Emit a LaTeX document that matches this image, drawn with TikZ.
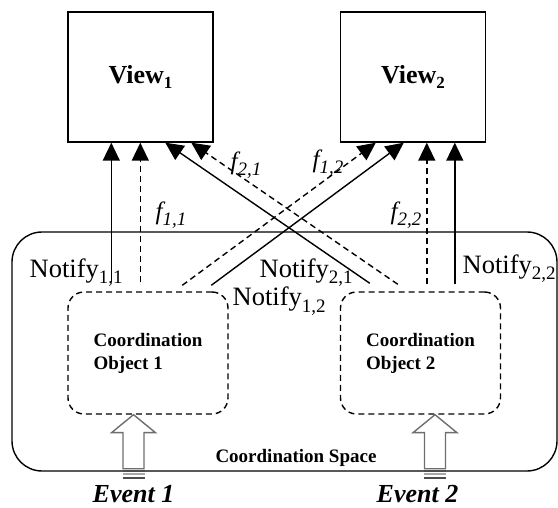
\documentclass[tikz,border=0pt]{standalone}
\usepackage{fontspec}
\setmainfont{Liberation Serif}
\usetikzlibrary{arrows.meta,calc}
\newcommand{\dnsub}[1]{\raisebox{-6pt}{\fontsize{19}{19}\selectfont #1}}
\newcommand{\vsub}[1]{\raisebox{-5pt}{\fontsize{17}{17}\selectfont #1}}
\definecolor{evgray}{HTML}{6E6E6E}
\begin{document}
\begin{tikzpicture}[x=1pt,y=-1pt,line width=1.4pt,
  >={Triangle[length=18pt,width=17pt]},
  viewbox/.style={draw,minimum width=145pt,minimum height=130pt,inner sep=0pt,
    font=\fontsize{26}{26}\selectfont\bfseries},
  cobox/.style={draw,dash pattern=on 6pt off 4pt,rounded corners=16pt,
    minimum width=160pt,minimum height=122pt,align=left,
    font=\fontsize{19}{23}\selectfont\bfseries},
  spacebox/.style={draw,rounded corners=30pt,minimum width=545pt,minimum height=239pt,inner sep=0pt},
  conn/.style={->},
  dconn/.style={->,dash pattern=on 6pt off 4pt},
  ntf/.style={inner sep=0pt,anchor=base west,font=\fontsize{26.5}{26.5}\selectfont},
  flbl/.style={inner sep=0pt,font=\fontsize{25}{25}\selectfont\itshape},
  evlbl/.style={inner sep=0pt,anchor=base west,font=\fontsize{26}{26}\selectfont\bfseries\itshape},
  evarrow/.style={draw=evgray,fill=white,line width=1.4pt,line join=miter},
  stripe/.style={line width=2pt}
]
\useasboundingbox (0,0) rectangle (558,508);

% coordination space
\node[spacebox] (cs) at (284.5,351.5) {};
\node[inner sep=0pt,anchor=base,font=\fontsize{19}{19}\selectfont\bfseries] (cslbl) at (296,462) {Coordination Space};

% views
\node[viewbox] (v1) at (140.5,77) {View\vsub{1}};
\node[viewbox] (v2) at (413,77) {View\vsub{2}};

% coordination objects
\node[cobox] (co1) at (148,353) {Coordination\\Object 1};
\node[cobox] (co2) at (420.5,353) {Coordination\\Object 2};

% connector start points
\coordinate (a1) at ($(co1.north west)+(44,-9)$);
\coordinate (a2) at ($(co1.north west)+(73,-9)$);
\coordinate (a3) at ($(co1.north west)+(115,-6)$);
\coordinate (a4) at ($(co1.north west)+(144,-6)$);
\coordinate (b1) at ($(co2.north west)+(30,-8)$);
\coordinate (b2) at ($(co2.north west)+(58,-7)$);
\coordinate (b3) at ($(co2.north west)+(87,-7)$);
\coordinate (b4) at ($(co2.north west)+(115,-7)$);

% connector end points
\coordinate (t1) at ($(v1.south west)+(44,0)$);
\coordinate (t2) at ($(v1.south west)+(73,0)$);
\coordinate (t3) at ($(v1.south west)+(98,0)$);
\coordinate (t4) at ($(v1.south west)+(124,0)$);
\coordinate (u1) at ($(v2.south west)+(36,0)$);
\coordinate (u2) at ($(v2.south west)+(64,0)$);
\coordinate (u3) at ($(v2.south west)+(87,0)$);
\coordinate (u4) at ($(v2.south west)+(115,0)$);

% connectors
\draw[conn] (a1) -- (t1);
\draw[dconn] (a2) -- (t2);
\draw[dconn] (a3) -- (u1);
\draw[conn] (a4) -- (u2);
\draw[conn] (b1) -- (t3);
\draw[dconn] (b2) -- (t4);
\draw[dconn] (b3) -- (u3);
\draw[conn] (b4) -- (u4);

% labels
\node[flbl] (f11) at (171,215) {f\dnsub{1,1}};
\node[flbl] (f21) at (246,165) {f\dnsub{2,1}};
\node[flbl] (f12) at (328,163) {f\dnsub{1,2}};
\node[flbl] (f22) at (406,215) {f\dnsub{2,2}};

\node[ntf] (n11) at (29,278) {Notify\dnsub{1,1}};
\node[ntf] (n21) at (259,278) {Notify\dnsub{2,1}};
\node[ntf] (n12) at (232,306) {Notify\dnsub{1,2}};
\node[ntf] (n22) at (462,274) {Notify\dnsub{2,2}};

% event arrows
\coordinate (e1tip) at ($(co1.south)+(-14.5,0)$);
\coordinate (e2tip) at ($(co2.south)+(14.5,0)$);
\foreach \t in {e1tip,e2tip}{
  \draw[evarrow] (\t) -- ++(22,18) -- ++(-11.5,0) -- ++(0,36) -- ++(-21,0) -- ++(0,-36) -- ++(-11.5,0) -- cycle;
  \draw[stripe,evgray!70!black] ($(\t)+(-11,56)$) -- ++(22,0);
  \draw[stripe,evgray!60] ($(\t)+(-11,59.5)$) -- ++(22,0);
  \draw[stripe,evgray!70!black] ($(\t)+(-11,63)$) -- ++(22,0);
}
\node[evlbl] (ev1) at (92,502) {Event 1};
\node[evlbl] (ev2) at (376,502) {Event 2};
\end{tikzpicture}
\end{document}
